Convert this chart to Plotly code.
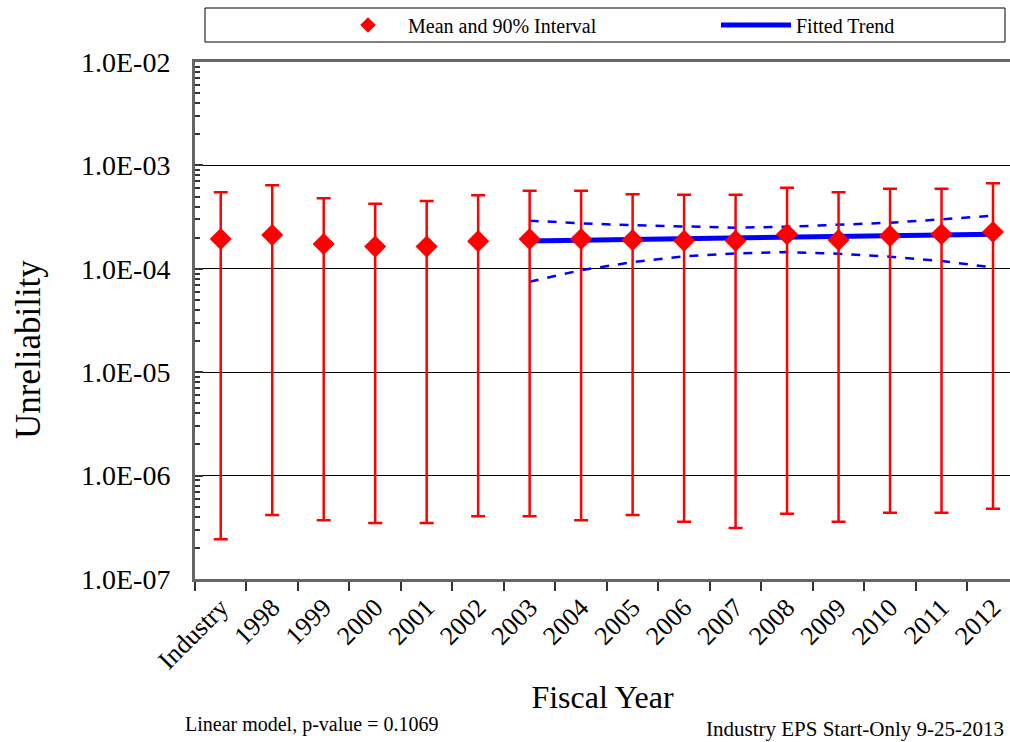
import plotly.graph_objects as go

categories = ["Industry", "1998", "1999", "2000", "2001", "2002", "2003", "2004",
              "2005", "2006", "2007", "2008", "2009", "2010", "2011", "2012"]
mean_vals = [1.94e-4, 2.12e-4, 1.74e-4, 1.64e-4, 1.64e-4, 1.85e-4, 1.94e-4, 1.94e-4,
             1.90e-4, 1.87e-4, 1.87e-4, 2.16e-4, 1.90e-4, 2.08e-4, 2.16e-4, 2.27e-4]
upper_vals = [5.5e-4, 6.42e-4, 4.81e-4, 4.26e-4, 4.52e-4, 5.14e-4, 5.69e-4, 5.69e-4,
              5.25e-4, 5.2e-4, 5.2e-4, 6.08e-4, 5.5e-4, 5.95e-4, 5.95e-4, 6.71e-4]
lower_vals = [2.42e-7, 4.16e-7, 3.70e-7, 3.48e-7, 3.48e-7, 4.04e-7, 4.04e-7, 3.70e-7,
              4.16e-7, 3.58e-7, 3.11e-7, 4.28e-7, 3.58e-7, 4.38e-7, 4.38e-7, 4.79e-7]

trend_years = ["2003", "2004", "2005", "2006", "2007", "2008", "2009", "2010", "2011", "2012"]
trend_fit = [1.86e-4, 1.89e-4, 1.92e-4, 1.95e-4, 1.98e-4, 2.01e-4, 2.04e-4, 2.08e-4, 2.12e-4, 2.16e-4]
trend_upper = [2.92e-4, 2.75e-4, 2.64e-4, 2.55e-4, 2.50e-4, 2.55e-4, 2.65e-4, 2.79e-4, 3.01e-4, 3.26e-4]
trend_lower = [7.5e-5, 9.7e-5, 1.16e-4, 1.32e-4, 1.41e-4, 1.45e-4, 1.40e-4, 1.31e-4, 1.19e-4, 1.03e-4]

y_tickvals = [1e-7, 1e-6, 1e-5, 1e-4, 1e-3, 1e-2]
y_ticktext = ["1.0E-07", "1.0E-06", "1.0E-05", "1.0E-04", "1.0E-03", "1.0E-02"]

FONT = "Liberation Serif, Times New Roman, serif"

err_plus = [u - m for u, m in zip(upper_vals, mean_vals)]
err_minus = [m - l for m, l in zip(mean_vals, lower_vals)]

minor_vals = []
for e in range(-7, -2):
    for k in range(2, 10):
        minor_vals.append(k * 10 ** e)

fig = go.Figure()

fig.add_trace(go.Scatter(
    x=trend_years, y=trend_upper, mode="lines",
    line=dict(color="#0000FF", width=2.5, dash="dash"), showlegend=False, hoverinfo="skip"))
fig.add_trace(go.Scatter(
    x=trend_years, y=trend_lower, mode="lines",
    line=dict(color="#0000FF", width=2.5, dash="dash"), showlegend=False, hoverinfo="skip"))
fig.add_trace(go.Scatter(
    x=trend_years, y=trend_fit, mode="lines", name="Fitted Trend", legend="legend2",
    line=dict(color="#0000FF", width=5)))

fig.add_trace(go.Scatter(
    x=categories, y=mean_vals, mode="markers", name="Mean and 90% Interval", legend="legend",
    marker=dict(symbol="diamond", color="#FF0000", size=17),
    error_y=dict(type="data", symmetric=False, array=err_plus, arrayminus=err_minus,
                 color="#FF0000", thickness=2.5, width=7)))

PW = 815.0
PH = 517.0

fig.add_shape(type="rect", xref="paper", yref="paper",
              x0=(205 - 195) / PW, x1=(1005 - 195) / PW,
              y0=(579 - 42) / PH, y1=(579 - 8) / PH,
              line=dict(color="black", width=1), fillcolor="rgba(0,0,0,0)")

leg_common = dict(orientation="h", yanchor="middle", xanchor="left",
                  y=(579 - 25) / PH, font=dict(size=20, family=FONT),
                  itemwidth=70, itemsizing="constant", bgcolor="rgba(0,0,0,0)",
                  borderwidth=0)

fig.update_layout(
    width=1010, height=742,
    margin=dict(l=195, r=0, t=62, b=163),
    paper_bgcolor="white", plot_bgcolor="white",
    font=dict(family=FONT, color="black"),
    showlegend=True,
    legend=dict(x=(328 - 195) / PW, **leg_common),
    legend2=dict(x=(716 - 195) / PW, **leg_common),
    xaxis=dict(
        type="category", categoryorder="array", categoryarray=categories,
        range=[-0.5, 15.33],
        tickson="boundaries", ticks="outside", ticklen=9, tickwidth=1.5, tickcolor="#333",
        showline=True, linecolor="#666", linewidth=3, mirror=True,
        showgrid=False, tickangle=-45,
        tickfont=dict(size=26, family=FONT),
        title=dict(text="Fiscal Year", font=dict(size=32, family=FONT), standoff=12),
    ),
    yaxis=dict(
        type="log", range=[-7, -2],
        tickmode="array", tickvals=y_tickvals, ticktext=y_ticktext,
        ticks="inside", ticklen=8, tickcolor="#333", tickwidth=1.5,
        showline=True, linecolor="#666", linewidth=3,
        showgrid=True, gridcolor="black", gridwidth=1,
        tickfont=dict(size=28, family=FONT),
        ticklabelstandoff=16,
        minor=dict(tickmode="array", tickvals=minor_vals, ticks="inside", ticklen=5,
                   tickcolor="#333", tickwidth=1.5, showgrid=False),
    ),
    annotations=[
        dict(text="Unreliability", xref="paper", yref="paper", textangle=-90,
             x=(28 - 195) / PW, y=(579 - 350) / PH, xanchor="center", yanchor="middle",
             showarrow=False, font=dict(size=35, family=FONT)),
        dict(text="Linear model, p-value = 0.1069", xref="paper", yref="paper",
             x=(183 - 195) / PW, y=-(725 - 579) / PH, xanchor="left", yanchor="middle",
             showarrow=False, font=dict(size=20, family=FONT)),
        dict(text="Industry EPS Start-Only 9-25-2013", xref="paper", yref="paper",
             x=(1006 - 195) / PW, y=-(729 - 579) / PH, xanchor="right", yanchor="middle",
             showarrow=False, font=dict(size=21, family=FONT)),
    ],
)

fig.write_html("out.html", config={"displayModeBar": False},
               post_script="document.body.style.margin='0';document.body.style.overflow='hidden';window.dispatchEvent(new Event('resize'));")
